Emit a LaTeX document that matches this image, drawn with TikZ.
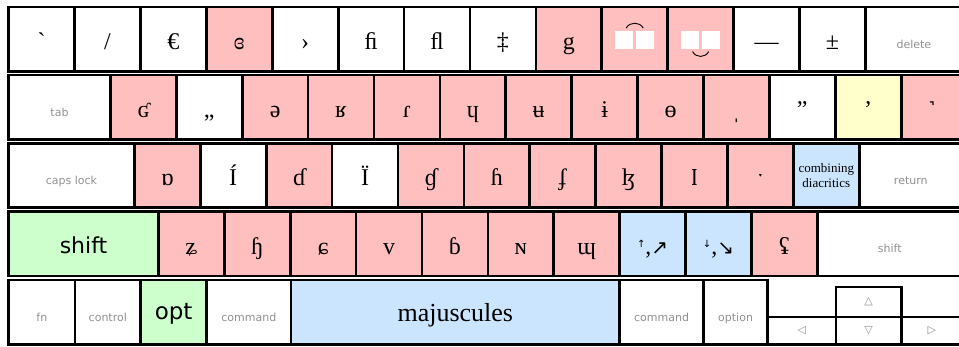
\documentclass[tikz,border=0pt]{standalone}
\usepackage{fontspec}
\usepackage{graphicx}
\usetikzlibrary{calc}
\setmainfont{Liberation Serif}[Ligatures=TeXOff]
\newfontfamily\labelfont{DejaVu Sans}
\newfontfamily\symfont{DejaVu Sans}

\definecolor{ipa}{RGB}{255,191,191}
\definecolor{modgreen}{RGB}{204,255,204}
\definecolor{combblue}{RGB}{204,229,255}
\definecolor{quoteyellow}{RGB}{255,255,204}
\definecolor{labelgray}{RGB}{145,145,145}

% one key: name, left, top, right, bottom, options, text
\newcommand\keycap[7]{%
  \node[key,#6,minimum width={(#4)-(#2)},minimum height={(#5)-(#3)}] (#1) at (#2,#3) {#7};}

\begin{document}
\begin{tikzpicture}[x=1pt,y=-1pt,
  key/.style={draw=black,line width=2.7pt,inner sep=0pt,anchor=north west,fill=white},
  glyph/.style={font=\fontsize{24}{26}\selectfont,text height=21pt,text depth=0pt},
  pink/.style={fill=ipa,glyph},
  lbl/.style={font=\labelfont\fontsize{11}{13}\selectfont,text=labelgray,text height=18pt,text depth=0pt},
  arrowlbl/.style={font=\symfont\fontsize{11}{13}\selectfont,text=labelgray},
  modkey/.style={fill=modgreen,font=\labelfont\fontsize{22}{24}\selectfont,text height=20pt,text depth=0pt},
  tiebox/.style={fill=white},
  tiearc/.style={draw=black,line width=0.9pt}]

\useasboundingbox (0,0) rectangle (959,346);
\clip (0,0) rectangle (959,346);

% row tops and bottoms
\def\yAt{5.5}\def\yAb{69.9}
\def\yBt{73.5}\def\yBb{137.9}
\def\yCt{141.8}\def\yCb{206.2}
\def\yDt{210.2}\def\yDb{274.6}
\def\yEt{278.6}\def\yEb{343.0}

% ---- number row
\keycap{a1}{7.3}{\yAt}{73.2}{\yAb}{glyph}{`}
\keycap{a2}{73.2}{\yAt}{139.1}{\yAb}{glyph}{/}
\keycap{a3}{139.1}{\yAt}{205.0}{\yAb}{glyph}{€}
\keycap{a4}{205.0}{\yAt}{270.9}{\yAb}{pink}{ɞ}
\keycap{a5}{270.9}{\yAt}{336.8}{\yAb}{glyph}{›}
\keycap{a6}{336.8}{\yAt}{402.7}{\yAb}{glyph}{ﬁ}
\keycap{a7}{402.7}{\yAt}{468.6}{\yAb}{glyph}{ﬂ}
\keycap{a8}{468.6}{\yAt}{534.5}{\yAb}{glyph}{‡}
\keycap{a9}{534.5}{\yAt}{600.4}{\yAb}{pink}{g}
\keycap{tieA}{600.4}{\yAt}{666.3}{\yAb}{pink}{}
\keycap{tieB}{666.3}{\yAt}{732.2}{\yAb}{pink}{}
\keycap{a12}{732.2}{\yAt}{798.1}{\yAb}{glyph}{—}
\keycap{a13}{798.1}{\yAt}{864.0}{\yAb}{glyph}{±}
\keycap{delete}{864.0}{\yAt}{961}{\yAb}{lbl}{delete}

% tie marks over and under two blank boxes
\fill[tiebox] ($(tieA.center)+(-19.5,-8.5)$) rectangle ++(18,18);
\fill[tiebox] ($(tieA.center)+(1.5,-8.5)$) rectangle ++(18,18);
\draw[tiearc] ($(tieA.center)+(-8.5,-11)$) .. controls ($(tieA.center)+(-5,-17.5)$) and ($(tieA.center)+(5,-17.5)$) .. ($(tieA.center)+(8.5,-11)$);
\fill[tiebox] ($(tieB.center)+(-19.5,-8.5)$) rectangle ++(18,18);
\fill[tiebox] ($(tieB.center)+(1.5,-8.5)$) rectangle ++(18,18);
\draw[tiearc] ($(tieB.center)+(-8,12.5)$) .. controls ($(tieB.center)+(-5,19)$) and ($(tieB.center)+(5,19)$) .. ($(tieB.center)+(8,12.5)$);

% ---- top letter row
\keycap{tab}{7.3}{\yBt}{109.0}{\yBb}{lbl}{tab}
\keycap{b1}{109.0}{\yBt}{174.9}{\yBb}{pink}{ʛ}
\keycap{b2}{174.9}{\yBt}{240.8}{\yBb}{glyph}{„}
\keycap{b3}{240.8}{\yBt}{306.7}{\yBb}{pink}{ə}
\keycap{b4}{306.7}{\yBt}{372.6}{\yBb}{pink}{ʁ}
\keycap{b5}{372.6}{\yBt}{438.5}{\yBb}{pink}{ɾ}
\keycap{b6}{438.5}{\yBt}{504.4}{\yBb}{pink}{ɥ}
\keycap{b7}{504.4}{\yBt}{570.3}{\yBb}{pink}{ʉ}
\keycap{b8}{570.3}{\yBt}{636.2}{\yBb}{pink}{ɨ}
\keycap{b9}{636.2}{\yBt}{702.1}{\yBb}{pink}{ɵ}
\keycap{b10}{702.1}{\yBt}{768.0}{\yBb}{pink}{ˌ}
\keycap{b11}{768.0}{\yBt}{833.9}{\yBb}{glyph}{”}
\keycap{b12}{833.9}{\yBt}{899.8}{\yBb}{glyph,fill=quoteyellow}{’}
\keycap{b13}{899.8}{\yBt}{961}{\yBb}{pink}{˺}

% ---- home row
\keycap{caps}{7.3}{\yCt}{133.0}{\yCb}{lbl}{caps lock}
\keycap{c1}{133.0}{\yCt}{198.9}{\yCb}{pink}{ɒ}
\keycap{c2}{198.9}{\yCt}{264.8}{\yCb}{glyph}{Í}
\keycap{c3}{264.8}{\yCt}{330.7}{\yCb}{pink}{ɗ}
\keycap{c4}{330.7}{\yCt}{396.6}{\yCb}{glyph}{Ï}
\keycap{c5}{396.6}{\yCt}{462.5}{\yCb}{pink}{ɠ}
\keycap{c6}{462.5}{\yCt}{528.4}{\yCb}{pink}{ɦ}
\keycap{c7}{528.4}{\yCt}{594.3}{\yCb}{pink}{ʄ}
\keycap{c8}{594.3}{\yCt}{660.2}{\yCb}{pink}{ɮ}
\keycap{c9}{660.2}{\yCt}{726.1}{\yCb}{pink}{\scalebox{1}[1.45]{ɪ}}
\keycap{c10}{726.1}{\yCt}{792.0}{\yCb}{pink}{ˑ}
\keycap{comb}{792.0}{\yCt}{857.9}{\yCb}{fill=combblue,align=center,font=\fontsize{13}{15.5}\selectfont}{combining\\diacritics}
\keycap{return}{857.9}{\yCt}{961}{\yCb}{lbl}{return}

% ---- bottom letter row
\keycap{lshift}{7.3}{\yDt}{157.0}{\yDb}{modkey}{shift}
\keycap{d1}{157.0}{\yDt}{222.9}{\yDb}{pink}{ʑ}
\keycap{d2}{222.9}{\yDt}{288.8}{\yDb}{pink}{ɧ}
\keycap{d3}{288.8}{\yDt}{354.7}{\yDb}{pink}{ɕ}
\keycap{d4}{354.7}{\yDt}{420.6}{\yDb}{pink}{v}
\keycap{d5}{420.6}{\yDt}{486.5}{\yDb}{pink}{ɓ}
\keycap{d6}{486.5}{\yDt}{552.4}{\yDb}{pink}{ɴ}
\keycap{d7}{552.4}{\yDt}{618.3}{\yDb}{pink}{ɰ}
\keycap{up}{618.3}{\yDt}{684.2}{\yDb}{glyph,fill=combblue}{\raisebox{7pt}{\symfont\fontsize{10}{10}\selectfont↑},{\symfont\fontsize{20}{20}\selectfont↗}}
\keycap{down}{684.2}{\yDt}{750.1}{\yDb}{glyph,fill=combblue}{\raisebox{7pt}{\symfont\fontsize{10}{10}\selectfont↓},{\symfont\fontsize{20}{20}\selectfont↘}}
\keycap{d10}{750.1}{\yDt}{816.0}{\yDb}{pink}{ʢ}
\keycap{rshift}{816.0}{\yDt}{961}{\yDb}{lbl}{shift}

% ---- space bar row
\keycap{fn}{7.3}{\yEt}{73.7}{\yEb}{lbl}{fn}
\keycap{ctrl}{73.7}{\yEt}{139.2}{\yEb}{lbl}{control}
\keycap{opt}{139.2}{\yEt}{205.3}{\yEb}{modkey,font=\labelfont\fontsize{23}{25}\selectfont,text height=14pt}{opt}
\keycap{lcmd}{205.3}{\yEt}{289.7}{\yEb}{lbl}{command}
\keycap{space}{289.7}{\yEt}{618.2}{\yEb}{fill=combblue,font=\fontsize{26}{28}\selectfont,text height=19pt,text depth=0pt}{majuscules}
\keycap{rcmd}{618.2}{\yEt}{702.2}{\yEb}{lbl}{command}
\keycap{ropt}{702.2}{\yEt}{766.3}{\yEb}{lbl}{option}

% ---- arrow cluster
\keycap{arrUp}{834.5}{285.5}{900.0}{315.7}{arrowlbl}{△}
\keycap{arrLeft}{766.3}{315.7}{834.5}{\yEb}{arrowlbl}{◁}
\keycap{arrDown}{834.5}{315.7}{900.0}{\yEb}{arrowlbl}{▽}
\keycap{arrRight}{900.0}{315.7}{961}{\yEb}{arrowlbl}{▷}
\end{tikzpicture}
\end{document}
